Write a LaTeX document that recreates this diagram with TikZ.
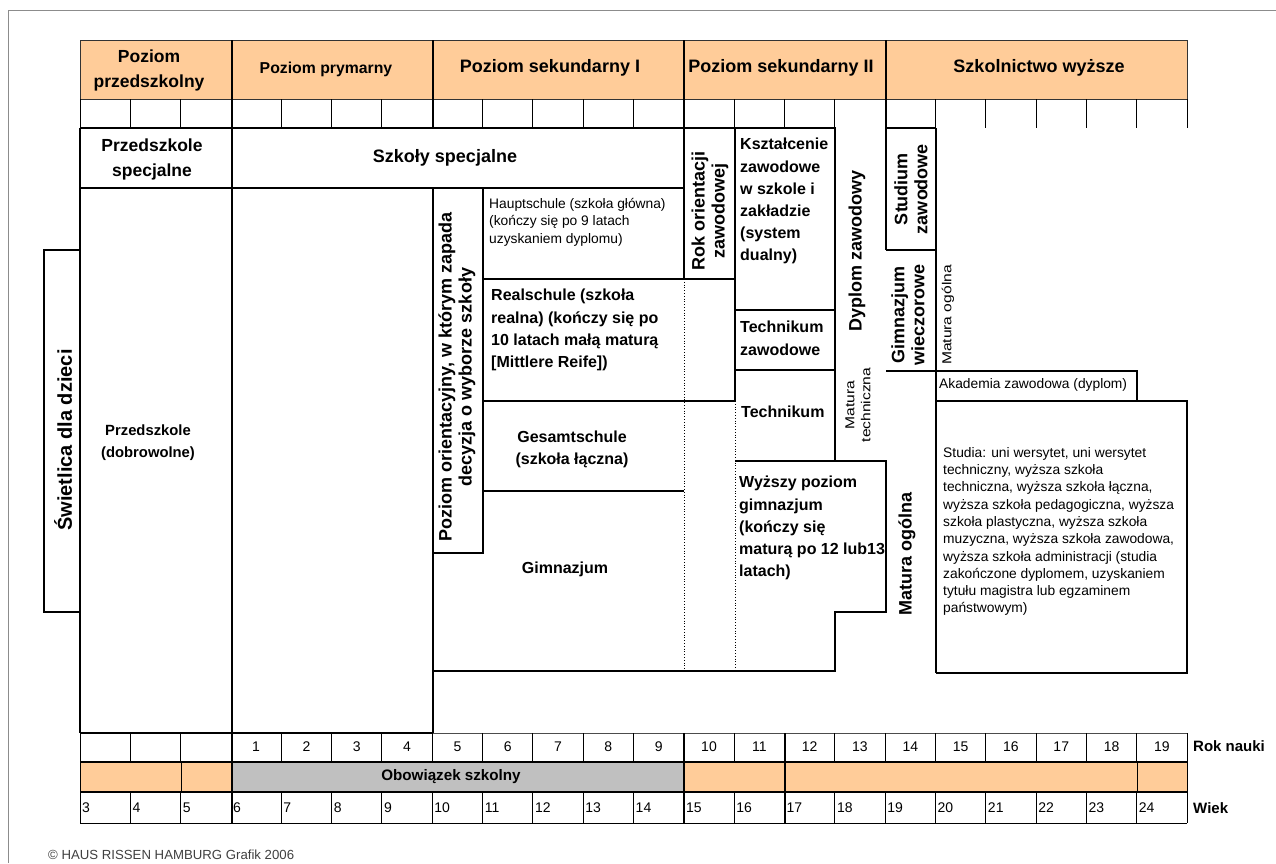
\documentclass[tikz,border=0pt]{standalone}
\usepackage{fontspec}
\setmainfont{Liberation Sans}
\newfontfamily\widesans[FakeStretch=1.2]{Liberation Sans}
\definecolor{hdr}{RGB}{255,204,153}
\definecolor{band}{RGB}{192,192,192}
\newcommand\fz[2]{\fontsize{#1}{#2}\selectfont}
\begin{document}
\begin{tikzpicture}[x=1pt,y=-1pt,
  thk/.style={line width=2.7pt},
  med/.style={line width=1.6pt},
  thn/.style={line width=0.9pt},
  dotln/.style={line width=0.8pt, dotted},
  hd/.style={inner sep=0pt, align=center, font=\bfseries\fz{18}{24}},
  bt/.style={inner sep=0pt, align=left, font=\bfseries\fz{16}{22.2}},
  bc/.style={inner sep=0pt, align=center, font=\bfseries\fz{16}{22}},
  rt/.style={inner sep=0pt, align=center, rotate=90, font=\bfseries\fz{18}{20}},
  st/.style={inner sep=0pt, align=left, font=\fz{13.8}{17.3}},
  sr/.style={inner sep=0pt, align=center, rotate=90, font=\widesans\fz{13}{16}},
  num/.style={inner sep=0pt, font=\fz{14}{16}},
]
\useasboundingbox (0,0) rectangle (1276,863);
\fill[white] (0,0) rectangle (1276,863);
% frame
\draw[black!45, line width=1pt] (8,863) -- (8,10) -- (1276,10);

% header
\fill[hdr] (80,40) rectangle (1187,99);
\draw[thn, black!80] (80,40) rectangle (1187,99);
\foreach \k in {0,...,22} \draw[thn] ({80+50.32*\k},99) -- ({80+50.32*\k},128);
\foreach \x in {232,433,684} \draw[thk] (\x,40) -- (\x,128);
\draw[thk] (886,40) -- (886,250);

\node[hd, font=\bfseries\fz{17.5}{25}] (h1) at (149,70) {Poziom\\przedszkolny};
\node[hd, font=\bfseries\fz{15.8}{18}] (h2) at (326,69) {Poziom prymarny};
\node[hd] (h3) at (550,68) {Poziom sekundarny I};
\node[hd] (h4) at (781,68) {Poziom sekundarny II};
\node[hd] (h5) at (1039,68) {Szkolnictwo wyższe};

% content boxes
\draw[thk] (80,128) -- (835,128) -- (835,461);
\draw[thk] (886,128) -- (936,128);
\draw[thk] (886,250) -- (936,250);
\draw[thk] (936,128) -- (936,673);
\draw[thk] (80,128) -- (80,733);
\draw[thk] (80,188) -- (684,188);
\draw[thk] (232,128) -- (232,733);
\draw[thk] (684,128) -- (684,279);
\draw[thk] (735,128) -- (735,401);
\draw[med] (735,310) -- (835,310);
\draw[thk] (735,370) -- (835,370);
\draw[thk] (483,279) -- (735,279);
\draw[thk] (483,188) -- (483,553) -- (433,553);
\draw[thk] (433,188) -- (433,733);
\draw[thk] (483,401) -- (735,401);
\draw[thk] (483,491) -- (684,491);
\draw[thk] (433,671) -- (835,671) -- (835,612) -- (886,612) -- (886,461) -- (735,461);
\draw[dotln] (684,279) -- (684,671);
\draw[dotln] (735,401) -- (735,671);
\draw[thk] (80,250) -- (44,250) -- (44,612) -- (80,612);
\draw[thk] (886,371) -- (1137,371) -- (1137,401);
\draw[thk] (936,401) -- (1187,401) -- (1187,673) -- (936,673);
\draw[thk] (80,733) -- (433,733);

% content texts
\node[hd, font=\bfseries\fz{17.5}{25}] (pspec) at (152,159) {Przedszkole\\specjalne};
\node[hd] (sspec) at (445,158) {Szkoły specjalne};
\node[hd, font=\bfseries\fz{14.8}{22}] (pdob) at (148,443) {Przedszkole\\(dobrowolne)};
\node[rt, font=\bfseries\fz{20}{22}] (swiet) at (63,440) {Świetlica dla dzieci};
\node[rt] (orient) at (457,377) {Poziom orientacyjny, w którym zapada\\decyzja o wyborze szkoły};
\node[st, anchor=north west, font=\fz{13.8}{17.5}] (haupt) at (489,198) {Hauptschule (szkoła główna)\\(kończy się po 9 latach\\uzyskaniem dyplomu)};
\node[rt] (rokor) at (710,211) {Rok orientacji\\zawodowej};
\node[bt, anchor=north west] (real) at (491,289) {Realschule (szkoła\\realna) (kończy się po\\10 latach małą maturą\\{[}Mittlere Reife{]})};
\node[bc] (gesamt) at (572,449) {Gesamtschule\\(szkoła łączna)};
\node[bc] (gimn) at (565,569) {Gimnazjum};
\node[bt, anchor=north west] (kszt) at (740,138) {Kształcenie\\zawodowe\\w szkole i\\zakładzie\\(system\\dualny)};
\node[bt, anchor=north west] (tz) at (740,321) {Technikum\\zawodowe};
\node[bt, anchor=west] (tech) at (741,412) {Technikum};
\node[bt, anchor=north west] (wyz) at (739,476) {Wyższy poziom\\gimnazjum\\(kończy się\\maturą po 12 lub13\\latach)};
\node[rt] (dypl) at (857,251) {Dyplom zawodowy};
\node[sr] (mattech) at (858,405) {Matura\\techniczna};
\node[rt] (stud) at (911,189) {Studium\\zawodowe};
\node[rt] (gwiecz) at (908,315) {Gimnazjum\\wieczorowe};
\node[sr] (matog2) at (948,315) {Matura ogólna};
\node[rt] (matog) at (907,554) {Matura ogólna};
\node[st, anchor=west] (akad) at (939,385) {Akademia zawodowa (dyplom)};
\node[st, anchor=north west] (studia) at (943,447) {Studia: uni wersytet, uni wersytet\\techniczny, wyższa szkoła\\techniczna, wyższa szkoła łączna,\\wyższa szkoła pedagogiczna, wyższa\\szkoła plastyczna, wyższa szkoła\\muzyczna, wyższa szkoła zawodowa,\\wyższa szkoła administracji (studia\\zakończone dyplomem, uzyskaniem\\tytułu magistra lub egzaminem\\państwowym)};

% bottom rows
\fill[hdr] (80,762) rectangle (232,792);
\fill[band] (232,762) rectangle (684,792);
\fill[hdr] (684,762) rectangle (1187,792);
\draw[thn, black!70] (433,733) -- (1187,733);
\foreach \k in {0,...,22} {
  \draw[thn] ({80+50.32*\k},733) -- ({80+50.32*\k},762);
  \draw[thn] ({80+50.32*\k},792) -- ({80+50.32*\k},823);
}
\foreach \x in {80,181,1137,1187} \draw[thn] (\x,762) -- (\x,792);
\foreach \x in {232,684,785} \draw[thk] (\x,733) -- (\x,823);
\draw[thk] (80,762) -- (1187,762);
\draw[thk] (80,792) -- (1187,792);
\draw[thn] (80,823) -- (1187,823);
\node[hd, font=\bfseries\fz{15.2}{17}] (obow) at (451,777) {Obowiązek szkolny};
\foreach \n [count=\i from 3] in {1,...,19}
  \node[num] (rk\n) at ({80+50.32*(\i+0.5)},747) {\n};
\foreach \n [count=\i from 0] in {3,...,24}
  \node[num, anchor=west] (wk\n) at ({80+50.32*\i+2},808) {\n};
\node[inner sep=0pt, anchor=west, font=\bfseries\fz{15}{17}] (roknauki) at (1193,746) {Rok nauki};
\node[inner sep=0pt, anchor=west, font=\bfseries\fz{15}{17}] (wiek) at (1193,808) {Wiek};
\node[inner sep=0pt, anchor=west, font=\fz{13.2}{15}, text=black!75] (copy) at (48,855) {© HAUS RISSEN HAMBURG Grafik 2006};
\end{tikzpicture}
\end{document}
